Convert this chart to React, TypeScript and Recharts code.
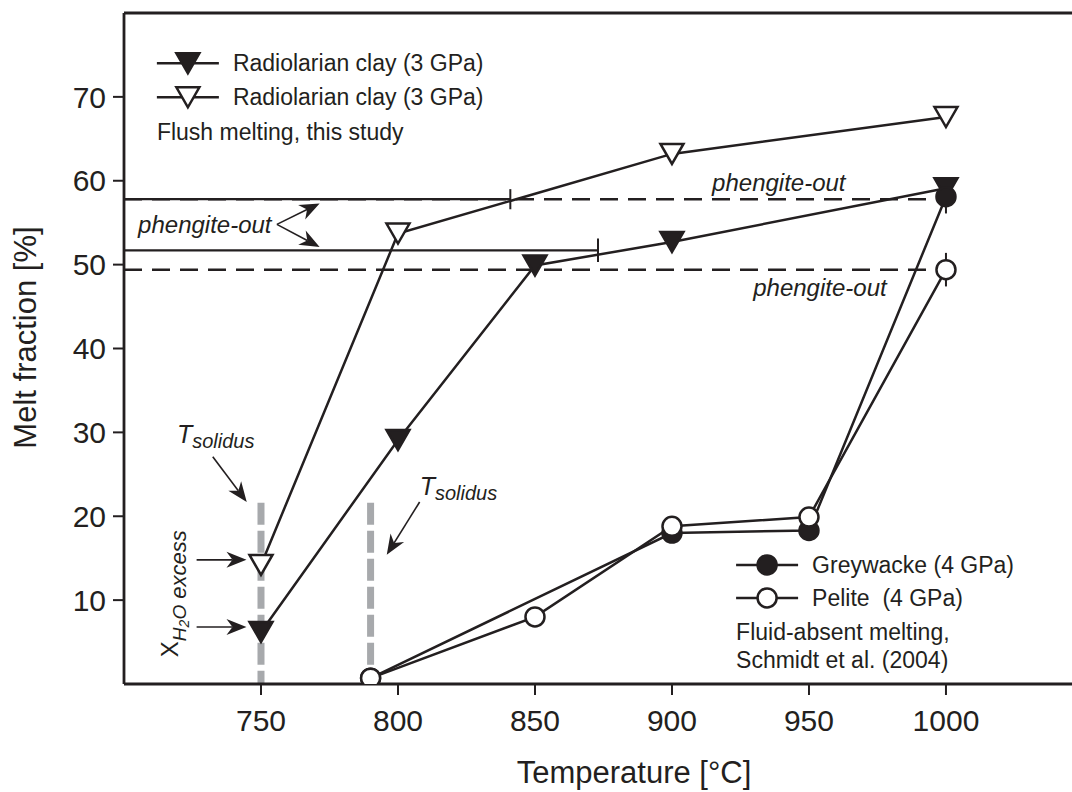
import React from "react";
import {
	ComposedChart,
	Line,
	XAxis,
	YAxis,
	ReferenceLine,
	ReferenceDot,
	Label,
} from "recharts";

const INK = "#231f20";
const GREY = "#a7a9ac";
const FONT = "'Liberation Sans', Arial, Helvetica, sans-serif";

// Radiolarian clay (3 GPa), flush melting - filled triangles
const clayFilledTemp = [750, 800, 850, 900, 1000];
const clayFilledMelt = [6.2, 29.1, 49.9, 52.7, 59.1];
// Radiolarian clay (3 GPa) - open triangles
const clayOpenTemp = [750, 800, 900, 1000];
const clayOpenMelt = [14.2, 53.7, 63.2, 67.6];
// Schmidt et al. (2004)
const greyTemp = [790, 900, 950, 1000];
const greyMelt = [0.7, 18.0, 18.3, 58.1];
const peliteTemp = [790, 850, 900, 950, 1000];
const peliteMelt = [0.7, 8.0, 18.8, 19.9, 49.4];

const xTicks = [750, 800, 850, 900, 950, 1000];
const yTicks = [10, 20, 30, 40, 50, 60, 70];

// phengite-out levels
const dashedLevels = [57.8, 49.4];
const solidLevels = [57.8, 51.7];
const solidEnds = [841, 873];
const markTemps = [841, 873, 1000, 1000];
const markLevels = [57.8, 51.7, 49.4, 57.8];
const markHalf = [1.2, 1.4, 2.0, 1.7];

// solidus temperatures
const solidusTemps = [750, 790];
const solidusTop = 21.6;

// annotation arrows [fromT, fromMelt, toT, toMelt]
const arrows = [
	[732.4, 27.1, 744.8, 21.7],
	[807.9, 21.7, 795.9, 15.4],
	[726.5, 14.8, 744.7, 14.8],
	[726.5, 6.8, 744.7, 6.8],
	[755.8, 54.8, 771.4, 57.3],
	[755.8, 54.8, 771.4, 52.1],
];

const legendFlush = ["Radiolarian clay (3 GPa)", "Radiolarian clay (3 GPa)", "Flush melting, this study"];
const legendSchmidt = ["Greywacke (4 GPa)", "Pelite  (4 GPa)", "Fluid-absent melting,", "Schmidt et al. (2004)"];

const toPoints = (t: number[], m: number[]) => t.map((x, i) => ({ t: x, melt: m[i] }));

const triPath = (cx: number, cy: number) =>
	`M${cx - 11.5},${cy - 10}L${cx + 11.5},${cy - 10}L${cx},${cy + 10}Z`;

const triangleDot = (filled: boolean) => (p: any) => (
	<path
		key={`t${p.index}`}
		d={triPath(p.cx, p.cy)}
		fill={filled ? INK : "#fff"}
		stroke={INK}
		strokeWidth={2.5}
	/>
);

const circleDot = (filled: boolean) => (p: any) => (
	<circle
		key={`c${p.index}`}
		cx={p.cx}
		cy={p.cy}
		r={9.5}
		fill={filled ? INK : "#fff"}
		stroke={INK}
		strokeWidth={2.5}
	/>
);

const Arrow = (props: any) => {
	const { x1, y1, x2, y2 } = props;
	const a = Math.atan2(y2 - y1, x2 - x1);
	const c = Math.cos(a);
	const s = Math.sin(a);
	const L = 20;
	const W = 8;
	const N = 14;
	const bx = x2 - L * c;
	const by = y2 - L * s;
	const nx = x2 - N * c;
	const ny = y2 - N * s;
	return (
		<g>
			<line x1={x1} y1={y1} x2={nx} y2={ny} stroke={INK} strokeWidth={1.6} />
			<path
				d={`M${x2},${y2}L${bx - W * s},${by + W * c}L${nx},${ny}L${bx + W * s},${by - W * c}Z`}
				fill={INK}
			/>
		</g>
	);
};

const italic = { fontFamily: FONT, fontStyle: "italic", fill: INK } as const;
const plain = { fontFamily: FONT, fill: INK, style: { whiteSpace: "pre" } } as const;

const phengite = (p: any) => (
	<text x={p.cx} y={p.cy} textAnchor="middle" dominantBaseline="central" fontSize={24} {...italic}>
		phengite-out
	</text>
);

const solidus = (p: any) => (
	<text x={p.cx} y={p.cy} {...italic}>
		<tspan fontSize={25}>T</tspan>
		<tspan fontSize={20} dy={5}>solidus</tspan>
	</text>
);

const waterExcess = (p: any) => (
	<text x={p.cx} y={p.cy} transform={`rotate(-90 ${p.cx} ${p.cy})`} {...italic}>
		<tspan fontSize={24} fontStyle="normal">X</tspan>
		<tspan fontSize={19} dy={8}>H</tspan>
		<tspan fontSize={14} dy={3}>2</tspan>
		<tspan fontSize={19} dy={-3}>O</tspan>
		<tspan fontSize={22}> excess</tspan>
	</text>
);

const legendRow = (x: number, y: number, label: string, marker: React.ReactNode) => (
	<g key={label + y}>
		<line x1={x} y1={y} x2={x + 62} y2={y} stroke={INK} strokeWidth={2.5} />
		{marker}
		<text x={x + 76} y={y} dominantBaseline="central" fontSize={23} {...plain}>
			{label}
		</text>
	</g>
);

const legendFlushShape = (p: any) => {
	const x = p.cx;
	const y = p.cy;
	return (
		<g>
			{legendRow(x, y, legendFlush[0], <path d={triPath(x + 31, y)} fill={INK} stroke={INK} strokeWidth={2.5} />)}
			{legendRow(x, y + 34, legendFlush[1], <path d={triPath(x + 31, y + 34)} fill="#fff" stroke={INK} strokeWidth={2.5} />)}
			<text x={x} y={y + 69} dominantBaseline="central" fontSize={23} {...plain}>
				{legendFlush[2]}
			</text>
		</g>
	);
};

const legendSchmidtShape = (p: any) => {
	const x = p.cx;
	const y = p.cy;
	return (
		<g>
			{legendRow(x, y, legendSchmidt[0], <circle cx={x + 31} cy={y} r={9.5} fill={INK} stroke={INK} strokeWidth={2.5} />)}
			{legendRow(x, y + 33, legendSchmidt[1], <circle cx={x + 31} cy={y + 33} r={9.5} fill="#fff" stroke={INK} strokeWidth={2.5} />)}
			<text x={x} y={y + 67} dominantBaseline="central" fontSize={23} {...plain}>
				{legendSchmidt[2]}
			</text>
			<text x={x} y={y + 95} dominantBaseline="central" fontSize={23} {...plain}>
				{legendSchmidt[3]}
			</text>
		</g>
	);
};

const App = () => {
	return (
		<div style={{ position: "fixed", left: 0, top: 0, width: 1072, height: 792, overflow: "hidden", background: "#fff" }}>
			<ComposedChart width={1072} height={792} margin={{ top: 13, right: 0, bottom: 0, left: 0 }}>
				<XAxis
					type="number"
					dataKey="t"
					domain={[700, 1046]}
					allowDataOverflow
					ticks={xTicks}
					height={108}
					tickSize={11}
					tickMargin={15}
					axisLine={{ stroke: INK, strokeWidth: 2.8 }}
					tickLine={{ stroke: INK, strokeWidth: 2 }}
					tick={{ fill: INK, fontSize: 30, fontFamily: FONT }}
				>
					<Label
						content={(p: any) => (
							<text x={p.viewBox.x + 510} y={p.viewBox.y + 99} textAnchor="middle" fontSize={31} {...plain}>
								Temperature [°C]
							</text>
						)}
					/>
				</XAxis>
				<YAxis
					type="number"
					domain={[0, 80]}
					allowDataOverflow
					ticks={yTicks}
					width={124}
					tickSize={11}
					tickMargin={7}
					axisLine={{ stroke: INK, strokeWidth: 2.8 }}
					tickLine={{ stroke: INK, strokeWidth: 2 }}
					tick={{ fill: INK, fontSize: 30, fontFamily: FONT }}
				>
					<Label
						content={(p: any) => {
							const x = p.viewBox.x + 36;
							const y = p.viewBox.y + p.viewBox.height / 2 - 11;
							return (
								<text x={x} y={y} transform={`rotate(-90 ${x} ${y})`} textAnchor="middle" fontSize={31} {...plain}>
									Melt fraction [%]
								</text>
							);
						}}
					/>
				</YAxis>

				{/* top frame */}
				<ReferenceLine y={80} stroke={INK} strokeWidth={2.8} ifOverflow="visible" />

				{solidusTemps.map((t) => (
					<ReferenceLine
						key={`sol${t}`}
						segment={[{ x: t, y: solidusTop }, { x: t, y: 0 }]}
						stroke={GREY}
						strokeWidth={7}
						strokeDasharray="22 6"
					/>
				))}

				{dashedLevels.map((v) => (
					<ReferenceLine
						key={`dl${v}`}
						segment={[{ x: 700, y: v }, { x: 1000, y: v }]}
						stroke={INK}
						strokeWidth={2.5}
						strokeDasharray="18 10"
					/>
				))}
				{solidLevels.map((v, i) => (
					<ReferenceLine
						key={`sl${v}`}
						segment={[{ x: 700, y: v }, { x: solidEnds[i], y: v }]}
						stroke={INK}
						strokeWidth={2.2}
					/>
				))}
				{markTemps.map((t, i) => (
					<ReferenceLine
						key={`mk${i}`}
						segment={[{ x: t, y: markLevels[i] - markHalf[i] }, { x: t, y: markLevels[i] + markHalf[i] }]}
						stroke={INK}
						strokeWidth={2}
					/>
				))}

				{arrows.map((a, i) => (
					<ReferenceLine
						key={`ar${i}`}
						segment={[{ x: a[0], y: a[1] }, { x: a[2], y: a[3] }]}
						shape={Arrow}
					/>
				))}

				<Line
					data={toPoints(clayOpenTemp, clayOpenMelt)}
					dataKey="melt"
					type="linear"
					stroke={INK}
					strokeWidth={2.5}
					dot={triangleDot(false)}
					activeDot={false}
					isAnimationActive={false}
				/>
				<Line
					data={toPoints(clayFilledTemp, clayFilledMelt)}
					dataKey="melt"
					type="linear"
					stroke={INK}
					strokeWidth={2.5}
					dot={triangleDot(true)}
					activeDot={false}
					isAnimationActive={false}
				/>
				<Line
					data={toPoints(greyTemp, greyMelt)}
					dataKey="melt"
					type="linear"
					stroke={INK}
					strokeWidth={2.5}
					dot={circleDot(true)}
					activeDot={false}
					isAnimationActive={false}
				/>
				<Line
					data={toPoints(peliteTemp, peliteMelt)}
					dataKey="melt"
					type="linear"
					stroke={INK}
					strokeWidth={2.5}
					dot={circleDot(false)}
					activeDot={false}
					isAnimationActive={false}
				/>

				<ReferenceDot x={939} y={59.8} r={0} ifOverflow="visible" shape={phengite} />
				<ReferenceDot x={954} y={47.3} r={0} ifOverflow="visible" shape={phengite} />
				<ReferenceDot x={729.5} y={54.8} r={0} ifOverflow="visible" shape={phengite} />
				<ReferenceDot x={719.3} y={28.7} r={0} ifOverflow="visible" shape={solidus} />
				<ReferenceDot x={807.9} y={22.5} r={0} ifOverflow="visible" shape={solidus} />
				<ReferenceDot x={719.7} y={3.2} r={0} ifOverflow="visible" shape={waterExcess} />

				<ReferenceDot x={712} y={74} r={0} ifOverflow="visible" shape={legendFlushShape} />
				<ReferenceDot x={923.4} y={14.2} r={0} ifOverflow="visible" shape={legendSchmidtShape} />
			</ComposedChart>
		</div>
	);
};

export default App;
